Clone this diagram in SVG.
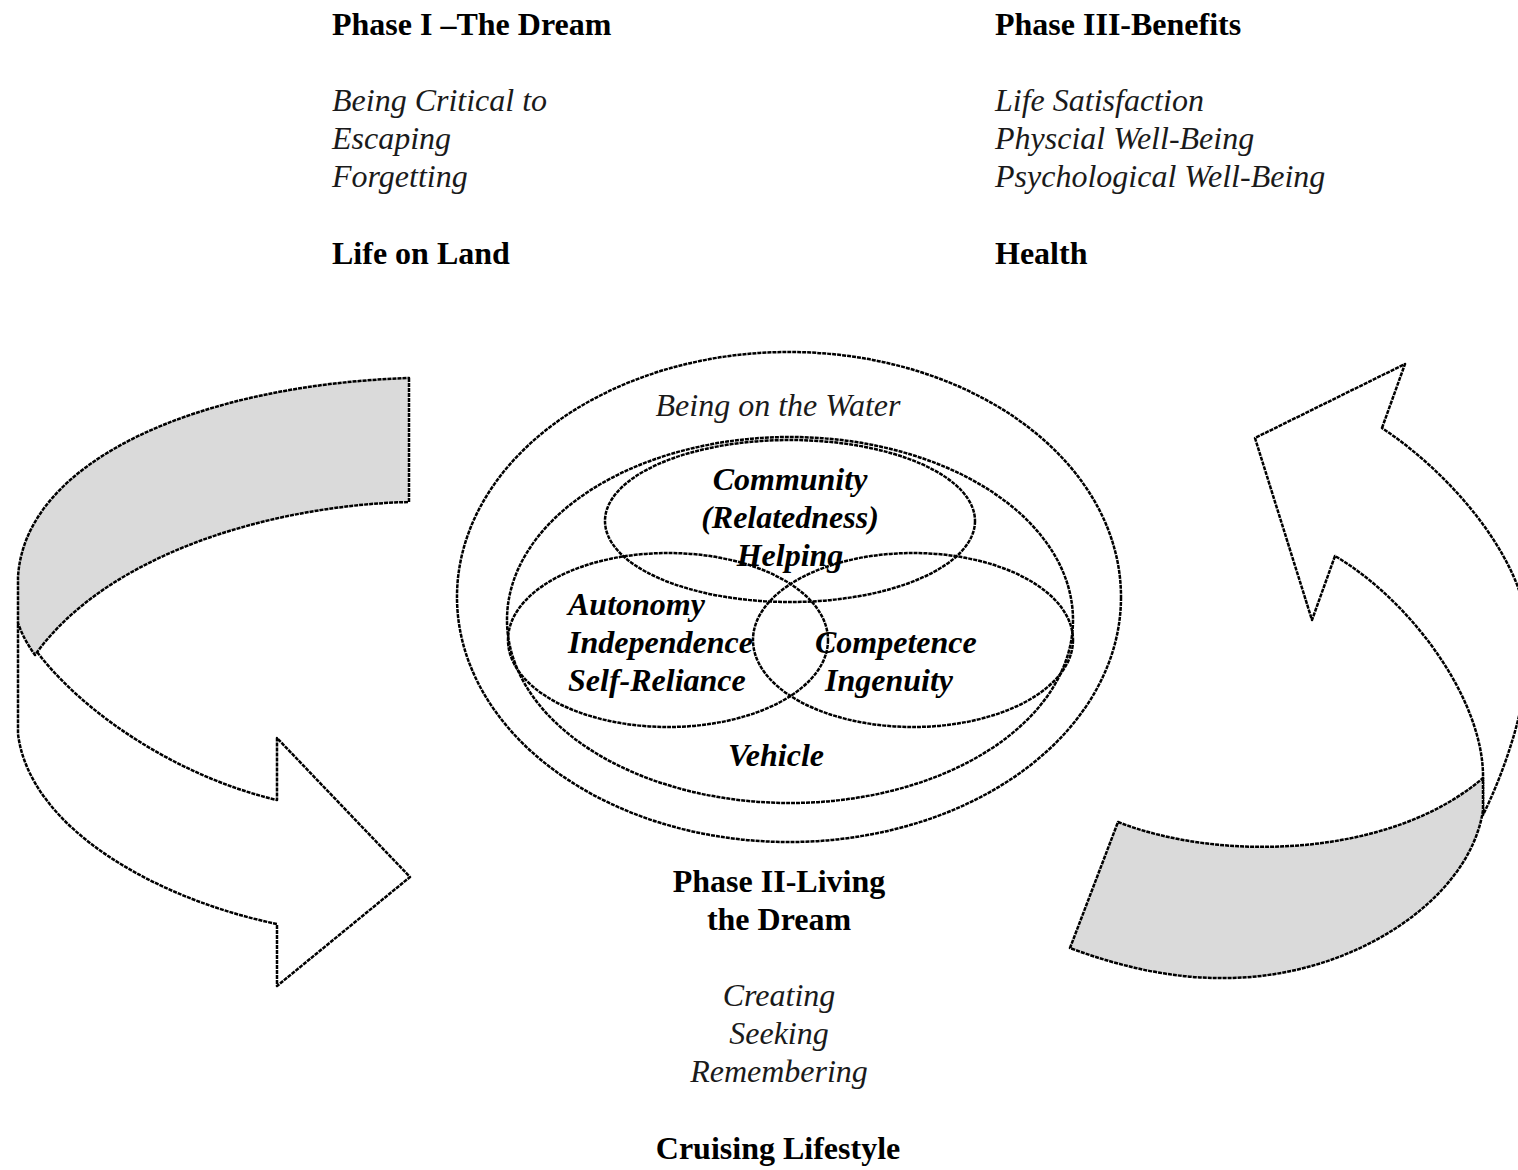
<svg xmlns="http://www.w3.org/2000/svg" width="1518" height="1170" viewBox="0 0 1518 1170">
<style>
  text { font-family: "Liberation Serif", "Times New Roman", serif; font-size: 32px; fill: #000; }
  .b { font-weight: bold; }
  .i { font-style: italic; fill: #1a1a1a; }
  .bi { font-weight: bold; font-style: italic; }
  .c { text-anchor: middle; }
  .ln { fill: none; stroke: #000; stroke-width: 2.5; stroke-dasharray: 4 1; }
  .gray { fill: #dadada; stroke: #000; stroke-width: 2.5; stroke-dasharray: 4 1; stroke-linejoin: round; }
  .white { fill: #fff; stroke: #000; stroke-width: 2.5; stroke-dasharray: 4 1; stroke-linejoin: round; }
</style>
<rect width="1518" height="1170" fill="#fff"/>

<g id="connectors">
  <g id="arrow-left">
    <path class="white" d="M18,623 C60,700 170,775 277,800 L277,738 L410,877 L277,986 L277,924 C160,900 30,830 18,734 Z"/>
    <path class="gray" d="M409,378 L409,502 C280,505 110,550 35,655 C28,645 22,635 18,623 L18,577 C25,460 200,385 409,378 Z"/>
  </g>
  <g id="arrow-right">
    <path class="white" d="M1382,428 L1405,364 L1255,438 L1312,620 L1335,556 C1410,600 1485,700 1483,780 L1483,815 C1505,770 1530,700 1528,640 C1530,570 1460,480 1382,428 Z"/>
    <path class="gray" d="M1118,822 C1220,862 1390,858 1483,778 L1483,810 C1470,900 1350,980 1220,978 Q1150,978 1070,948 Z"/>
  </g>
</g>

<g id="phase1">
  <text class="b" x="332" y="35">Phase I –The Dream</text>
  <text class="i" x="332" y="111">Being Critical to</text>
  <text class="i" x="332" y="149">Escaping</text>
  <text class="i" x="332" y="187">Forgetting</text>
  <text class="b" x="332" y="264">Life on Land</text>
</g>

<g id="phase3">
  <text class="b" x="995" y="35">Phase III-Benefits</text>
  <text class="i" x="995" y="111">Life Satisfaction</text>
  <text class="i" x="995" y="149">Physcial Well-Being</text>
  <text class="i" x="995" y="187">Psychological Well-Being</text>
  <text class="b" x="995" y="264">Health</text>
</g>

<g id="phase2">
  <text class="b c" x="779" y="892">Phase II-Living</text>
  <text class="b c" x="779" y="930">the Dream</text>
  <text class="i c" x="779" y="1006">Creating</text>
  <text class="i c" x="779" y="1044">Seeking</text>
  <text class="i c" x="779" y="1082">Remembering</text>
  <text class="b c" x="778" y="1159">Cruising Lifestyle</text>
</g>

<g id="water">
  <ellipse class="ln" cx="789" cy="597" rx="332" ry="245"/>
  <text class="i c" x="778" y="416">Being on the Water</text>
</g>

<g id="vehicle">
  <ellipse class="ln" cx="790" cy="620" rx="283" ry="183"/>
  <text class="bi c" x="776" y="766">Vehicle</text>
</g>

<g id="community">
  <ellipse class="ln" cx="790" cy="521" rx="185" ry="81"/>
  <text class="bi c" x="790" y="490">Community</text>
  <text class="bi c" x="790" y="528">(Relatedness)</text>
  <text class="bi c" x="790" y="566">Helping</text>
</g>

<g id="autonomy">
  <ellipse class="ln" cx="668" cy="640" rx="160" ry="87"/>
  <text class="bi" x="568" y="615">Autonomy</text>
  <text class="bi" x="568" y="653">Independence</text>
  <text class="bi" x="568" y="691">Self-Reliance</text>
</g>

<g id="competence">
  <ellipse class="ln" cx="913" cy="640" rx="160" ry="87"/>
  <text class="bi" x="815" y="653">Competence</text>
  <text class="bi" x="825" y="691">Ingenuity</text>
</g>
</svg>
